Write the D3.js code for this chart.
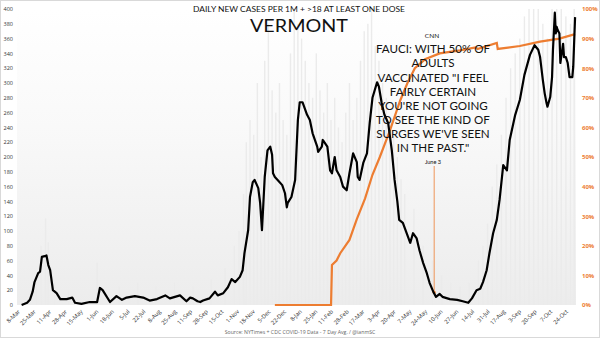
<!DOCTYPE html>
<html><head><meta charset="utf-8">
<script src="https://cdn.jsdelivr.net/npm/d3@7"></script>
<style>body{margin:0;background:#fff}svg{display:block}</style>
</head><body><svg id="c" width="600" height="338"></svg>
<script>
// ---- data (day offsets counted from 8-Mar-2020) ----
const tickLabels = ["8-Mar","25-Mar","11-Apr","28-Apr","15-May","1-Jun","18-Jun","5-Jul","22-Jul","8-Aug","25-Aug","11-Sep","28-Sep","15-Oct","1-Nov","18-Nov","5-Dec","22-Dec","8-Jan","25-Jan","11-Feb","28-Feb","17-Mar","3-Apr","20-Apr","7-May","24-May","10-Jun","27-Jun","14-Jul","31-Jul","17-Aug","3-Sep","20-Sep","7-Oct","24-Oct"];
const tickDays = [0,17,34,51,68,85,102,119,136,153,170,187,204,221,238,255,272,289,306,323,340,357,374,391,408,425,442,459,476,493,510,527,544,561,578,595];
const leftTicks = [0,20,40,60,80,100,120,140,160,180,200,220,240,260,280,300,320,340,360,380,400];
const rightTicks = [0,0.1,0.2,0.3,0.4,0.5,0.6,0.7,0.8,0.9,1.0];

const caseDays = [4,10,13,16,18,22,24,26,29,31,33,35,38,42,46,53,59,62,69,78,86,89,92,100,107,113,118,127,136,143,151,160,165,176,183,187,190,195,198,201,208,214,217,223,228,232,236,241,244,246,250,252,255,257,261,263,265,268,271,274,276,277,279,282,287,290,292,293,297,301,304,306,309,314,317,320,325,326,330,331,336,339,341,344,346,350,353,357,360,364,368,369,371,375,379,382,385,390,392,395,398,402,406,409,412,414,418,426,429,433,436,440,444,447,451,454,458,461,469,477,483,489,493,498,502,505,509,512,516,520,523,527,531,534,540,545,550,556,561,565,567,570,572,574,575,578,580,581,583,584,585,586,588,589,592,593,595,597,599,602,603,605];
const caseValues = [0,3,7,18,31,43,45,65,66,67,54,47,20,16,8,8,10,3,1.5,4,4,23,20,4,12,7,10,12,10,6,8,13,9,13,5,10,9,5,4,6,9,18,13,16,24,35,31,38,47,70,101,146,166,169,158,138,101,173,209,214,203,178,173,169,162,151,132,138,146,169,250,274,274,257,250,232,214,207,214,223,214,182,178,200,182,173,160,155,178,205,193,173,169,192,205,246,280,301,295,273,257,246,209,169,140,115,111,84,97,90,74,57,43,30,18,11,15,11,8,7,5,3,9,20,22,31,47,70,97,115,142,189,182,223,257,277,311,338,351,345,335,304,286,273,268,281,308,345,395,367,376,372,367,327,353,335,335,327,308,308,322,389];

const vaxDays = [279,340,341,346,350,360,368,377,385,393,404,415,423,431,442,458,480,497,499,520,521,545,567,588,605];
const vaxValues = [0,0,0.135,0.15,0.175,0.22,0.29,0.36,0.44,0.50,0.59,0.69,0.75,0.80,0.83,0.85,0.86,0.87,0.865,0.885,0.865,0.875,0.89,0.90,0.915];

const spikeDays = [20,25,30,33,40,55,86,110,130,150,170,190,210,225,235,240,245,248,252,256,260,264,268,272,276,280,284,288,292,296,300,304,308,312,316,320,324,328,332,336,340,344,348,352,356,360,364,368,372,376,380,384,388,392,396,400,404,408,412,416,420,430,440,450,460,470,480,490,500,505,510,515,520,525,530,535,540,545,550,555,560,565,570,575,580,585,590,595,600,604];
const spikeValues = [40,80,117,85,30,20,57,25,30,25,30,25,35,50,80,100,150,220,250,230,300,200,330,380,290,260,300,250,230,340,400,380,360,330,300,280,340,290,260,300,250,280,240,220,260,300,250,280,330,370,380,400,350,330,300,280,250,230,200,170,150,130,80,60,40,30,25,30,60,80,110,160,190,230,280,320,340,360,390,400,400,400,380,360,400,400,400,390,380,400];

const markerDay = 452; // June 3
const markerValue = 17;
const noteLines = ["FAUCI: WITH 50% OF","ADULTS","VACCINATED \"I FEEL","FAIRLY CERTAIN","YOU'RE NOT GOING","TO SEE THE KIND OF","SURGES WE'VE SEEN","IN THE PAST.\""];

// ---- drawing ----
const svg = d3.select("#c");
const W = 600, H = 338;
const x = d3.scaleLinear().domain([-1, 606]).range([17, 576]);
const y = d3.scaleLinear().domain([0, 400]).range([305, 9]);
const y2 = d3.scaleLinear().domain([0, 1]).range([305, 9]);

const defs = svg.append("defs");
const g = defs.append("linearGradient").attr("id","bg").attr("x1",0).attr("y1",0).attr("x2",0).attr("y2",1);
g.append("stop").attr("offset","0%").attr("stop-color","#ffffff");
g.append("stop").attr("offset","40%").attr("stop-color","#f9f9f9");
g.append("stop").attr("offset","100%").attr("stop-color","#ececec");

svg.append("rect").attr("x",0.5).attr("y",0.5).attr("width",W-1).attr("height",H-1)
  .attr("fill","#fff").attr("stroke","#d9d9d9");
svg.append("rect").attr("x",x(-1)).attr("y",y(400)).attr("width",x(606)-x(-1)).attr("height",y(0)-y(400))
  .attr("fill","url(#bg)");

// spikes (daily raw)
svg.append("g").selectAll("rect").data(spikeDays).join("rect")
  .attr("x", d => x(d) - 0.7)
  .attr("width", 1.4)
  .attr("y", (d,i) => y(spikeValues[i]))
  .attr("height", (d,i) => y(0) - y(spikeValues[i]))
  .attr("fill", "#ebebeb");

// axes
const fontAxis = "'Open Sans', sans-serif";
const la = svg.append("g").attr("transform","translate(13,0)")
  .call(d3.axisLeft(y).tickValues(leftTicks).tickSize(0).tickPadding(0));
la.select(".domain").remove();
la.selectAll("text").attr("font-size",5.5).attr("font-family",fontAxis).attr("fill","#333");

const ra = svg.append("g").attr("transform","translate(581,0)")
  .call(d3.axisRight(y2).tickValues(rightTicks).tickFormat(d => Math.round(d*100)+"%").tickSize(0).tickPadding(1));
ra.select(".domain").remove();
ra.selectAll("text").attr("font-size",6).attr("font-family",fontAxis).attr("fill","#ed7d31").attr("font-weight","bold");

const xa = svg.append("g").attr("transform","translate(0,305)")
  .call(d3.axisBottom(x).tickValues(tickDays).tickFormat((d,i) => tickLabels[i]).tickSize(0));
xa.select(".domain").remove();
xa.selectAll("text").attr("font-size",5.8).attr("font-family",fontAxis).attr("fill","#333")
  .attr("text-anchor","end").attr("dy",null).attr("y",null)
  .attr("transform","translate(2,7) rotate(-45)");

// vaccination line
const vaxLine = d3.line().x(d => x(d[0])).y(d => y2(d[1]));
svg.append("path").datum(vaxDays.map((d,i)=>[d,vaxValues[i]]))
  .attr("d", vaxLine).attr("fill","none").attr("stroke","#ed7d31").attr("stroke-width",2.2);

// marker line
svg.append("line").attr("x1",x(markerDay)).attr("x2",x(markerDay)).attr("y1",166).attr("y2",y(markerValue))
  .attr("stroke","#ed7d31").attr("stroke-width",0.8);
svg.append("circle").attr("cx",x(markerDay)).attr("cy",y(markerValue)).attr("r",1.6).attr("fill","#ed7d31");

// cases line
const caseLine = d3.line().x(d => x(d[0])).y(d => y(d[1]));
svg.append("path").datum(caseDays.map((d,i)=>[d,caseValues[i]]))
  .attr("d", caseLine).attr("fill","none").attr("stroke","#000").attr("stroke-width",2.2)
  .attr("stroke-linejoin","round");

// titles
const fontT = "Lato, 'Open Sans', sans-serif";
svg.append("text").attr("x",299).attr("y",12).attr("text-anchor","middle")
  .attr("font-family",fontT).attr("font-size",7.2).attr("fill","#111")
  .attr("textLength",212).attr("lengthAdjust","spacingAndGlyphs")
  .text("DAILY NEW CASES PER 1M + >18 AT LEAST ONE DOSE");
svg.append("text").attr("x",299).attr("y",32).attr("text-anchor","middle")
  .attr("font-family",fontT).attr("font-size",17).attr("fill","#111")
  .attr("textLength",98).attr("lengthAdjust","spacingAndGlyphs")
  .text("VERMONT");

// annotation
svg.append("text").attr("x",432).attr("y",38).attr("text-anchor","middle")
  .attr("font-family",fontT).attr("font-size",6.5).attr("fill","#111").text("CNN");
svg.append("g").selectAll("text").data(noteLines).join("text")
  .attr("x",433).attr("y",(d,i)=>53.3+i*14.1).attr("text-anchor","middle")
  .attr("font-family",fontT).attr("font-size",11.6).attr("fill","#111").text(d=>d);
svg.append("text").attr("x",433).attr("y",163.5).attr("text-anchor","middle")
  .attr("font-family",fontT).attr("font-size",5.6).attr("fill","#111").text("June 3");

// source
svg.append("text").attr("x",300).attr("y",334).attr("text-anchor","middle")
  .attr("font-family",fontAxis).attr("font-size",5.2).attr("fill","#666")
  .text("Source: NYTimes + CDC COVID-19 Data - 7 Day Avg. / @ianmSC");
</script></body></html>
